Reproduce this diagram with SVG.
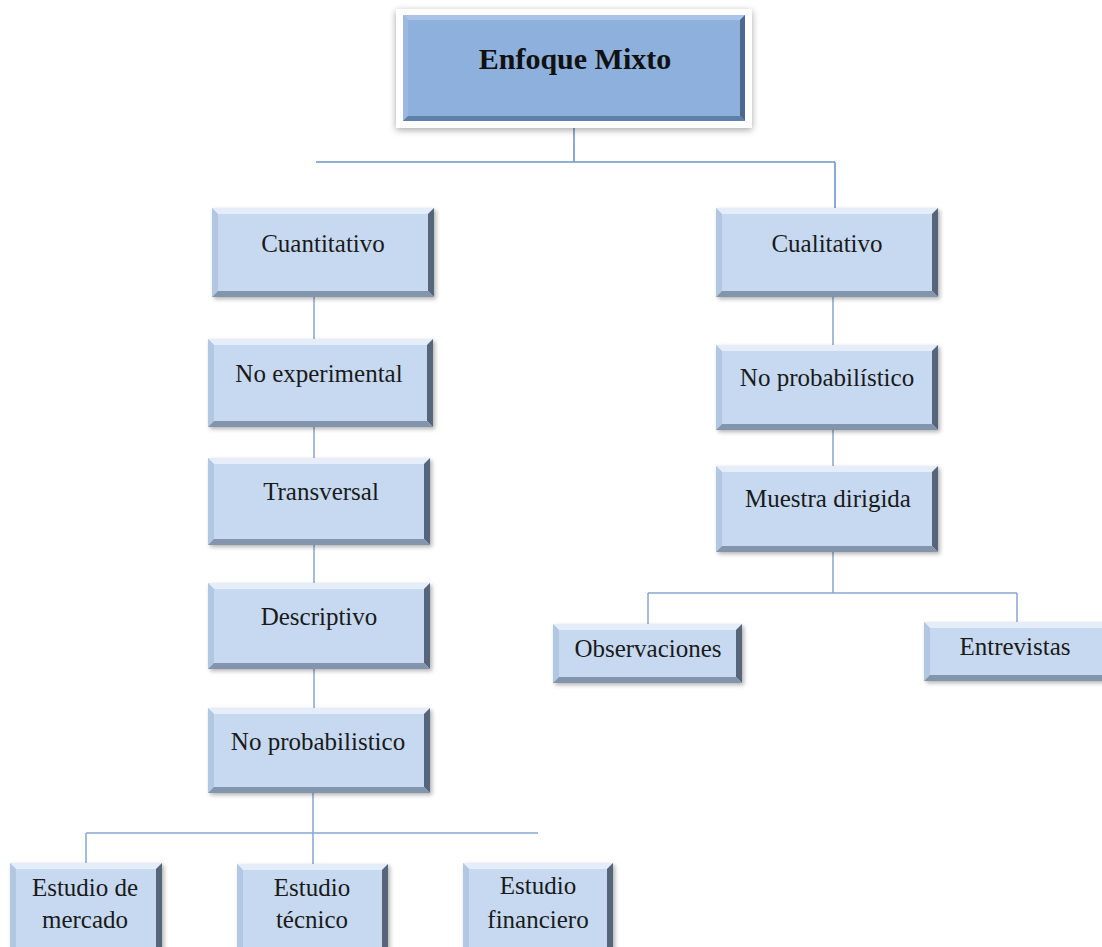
<svg xmlns="http://www.w3.org/2000/svg" width="1102" height="947" viewBox="0 0 1102 947">
  <style>
    .face { fill: #C6D9F0; }
    .bt { fill: #E4EDF8; }
    .bl { fill: #B2C7E2; }
    .br { fill: #56657A; }
    .bb { fill: #8395AC; }
    .lbl { font-family: "Liberation Serif", "Times New Roman", serif; font-size: 25px; fill: #1A1A1A; text-anchor: middle; }
    .title { font-family: "Liberation Serif", "Times New Roman", serif; font-size: 30px; font-weight: bold; fill: #111111; text-anchor: middle; }
    .wire { fill: none; stroke: #86A7D2; stroke-width: 1.5; }
    .wire-top { fill: none; stroke: #6F95C6; stroke-width: 1.6; }
    .tface { fill: #8DB0DC; }
    .tbt { fill: #A9C4E6; }
    .tbl { fill: #9AB8E0; }
    .tbr { fill: #4D6991; }
    .tbb { fill: #5F7EA8; }
  </style>
  <defs>
    <filter id="shade" x="-10%" y="-10%" width="125%" height="130%">
      <feDropShadow dx="2" dy="2" stdDeviation="2" flood-color="#000000" flood-opacity="0.3"/>
    </filter>
    <filter id="frameShade" x="-10%" y="-20%" width="120%" height="150%">
      <feDropShadow dx="0" dy="2" stdDeviation="3.5" flood-color="#000000" flood-opacity="0.35"/>
    </filter>
  </defs>

  <rect width="1102" height="947" fill="#FFFFFF"/>

  <!-- connectors -->
  <g id="connectors">
    <path class="wire-top" d="M574 128 V162 M316 162 H835 M835 162 V208"/>
    <path class="wire" d="M314 297 V339 M314 427 V458 M314 545 V583 M314 669 V708 M313 793 V864"/>
    <path class="wire" d="M86 833 H538 M86 833 V863"/>
    <path class="wire" d="M833 297 V345 M833 430 V466 M833 552 V593"/>
    <path class="wire" d="M648 593 H1017 M648 593 V624 M1017 593 V622"/>
  </g>

  <!-- root -->
  <g id="enfoque-mixto">
    <rect x="396" y="9" width="356" height="119" fill="#FFFFFF" filter="url(#frameShade)"/>
    <rect class="tface" x="403" y="15" width="342" height="106"/>
    <polygon class="tbt" points="403,15 745,15 740,20 408,20"/>
    <polygon class="tbl" points="403,15 408,20 408,116 403,121"/>
    <polygon class="tbr" points="745,15 745,121 740,116 740,20"/>
    <polygon class="tbb" points="403,121 745,121 740,116 408,116"/>
    <text class="title" x="575" y="69">Enfoque Mixto</text>
  </g>

  <!-- quantitative branch -->
  <g id="cuantitativo">
    <rect class="face" x="212" y="208" width="222" height="89" filter="url(#shade)"/>
    <polygon class="bt" points="212,208 434,208 428,214 218,214"/>
    <polygon class="bl" points="212,208 218,214 218,291 212,297"/>
    <polygon class="br" points="434,208 434,297 428,291 428,214"/>
    <polygon class="bb" points="212,297 434,297 428,291 218,291"/>
    <text class="lbl" x="323" y="252">Cuantitativo</text>
  </g>

  <g id="no-experimental">
    <rect class="face" x="208" y="339" width="225" height="88" filter="url(#shade)"/>
    <polygon class="bt" points="208,339 433,339 427,345 214,345"/>
    <polygon class="bl" points="208,339 214,345 214,421 208,427"/>
    <polygon class="br" points="433,339 433,427 427,421 427,345"/>
    <polygon class="bb" points="208,427 433,427 427,421 214,421"/>
    <text class="lbl" x="319" y="382">No experimental</text>
  </g>

  <g id="transversal">
    <rect class="face" x="208" y="458" width="222" height="87" filter="url(#shade)"/>
    <polygon class="bt" points="208,458 430,458 424,464 214,464"/>
    <polygon class="bl" points="208,458 214,464 214,539 208,545"/>
    <polygon class="br" points="430,458 430,545 424,539 424,464"/>
    <polygon class="bb" points="208,545 430,545 424,539 214,539"/>
    <text class="lbl" x="321" y="500">Transversal</text>
  </g>

  <g id="descriptivo">
    <rect class="face" x="208" y="583" width="222" height="86" filter="url(#shade)"/>
    <polygon class="bt" points="208,583 430,583 424,589 214,589"/>
    <polygon class="bl" points="208,583 214,589 214,663 208,669"/>
    <polygon class="br" points="430,583 430,669 424,663 424,589"/>
    <polygon class="bb" points="208,669 430,669 424,663 214,663"/>
    <text class="lbl" x="319" y="625">Descriptivo</text>
  </g>

  <g id="no-probabilistico-cuant">
    <rect class="face" x="208" y="708" width="222" height="85" filter="url(#shade)"/>
    <polygon class="bt" points="208,708 430,708 424,714 214,714"/>
    <polygon class="bl" points="208,708 214,714 214,787 208,793"/>
    <polygon class="br" points="430,708 430,793 424,787 424,714"/>
    <polygon class="bb" points="208,793 430,793 424,787 214,787"/>
    <text class="lbl" x="318" y="750">No probabilistico</text>
  </g>

  <g id="estudio-mercado">
    <rect class="face" x="10" y="863" width="152" height="92" filter="url(#shade)"/>
    <polygon class="bt" points="10,863 162,863 156,869 16,869"/>
    <polygon class="bl" points="10,863 16,869 16,949 10,955"/>
    <polygon class="br" points="162,863 162,955 156,949 156,869"/>
    <text class="lbl" x="85" y="896">Estudio de</text>
    <text class="lbl" x="85" y="928">mercado</text>
  </g>

  <g id="estudio-tecnico">
    <rect class="face" x="237" y="864" width="151" height="91" filter="url(#shade)"/>
    <polygon class="bt" points="237,864 388,864 382,870 243,870"/>
    <polygon class="bl" points="237,864 243,870 243,949 237,955"/>
    <polygon class="br" points="388,864 388,955 382,949 382,870"/>
    <text class="lbl" x="312" y="896">Estudio</text>
    <text class="lbl" x="312" y="928">técnico</text>
  </g>

  <g id="estudio-financiero">
    <rect class="face" x="463" y="863" width="150" height="92" filter="url(#shade)"/>
    <polygon class="bt" points="463,863 613,863 607,869 469,869"/>
    <polygon class="bl" points="463,863 469,869 469,949 463,955"/>
    <polygon class="br" points="613,863 613,955 607,949 607,869"/>
    <text class="lbl" x="538" y="894">Estudio</text>
    <text class="lbl" x="538" y="928">financiero</text>
  </g>

  <!-- qualitative branch -->
  <g id="cualitativo">
    <rect class="face" x="716" y="208" width="222" height="89" filter="url(#shade)"/>
    <polygon class="bt" points="716,208 938,208 932,214 722,214"/>
    <polygon class="bl" points="716,208 722,214 722,291 716,297"/>
    <polygon class="br" points="938,208 938,297 932,291 932,214"/>
    <polygon class="bb" points="716,297 938,297 932,291 722,291"/>
    <text class="lbl" x="827" y="252">Cualitativo</text>
  </g>

  <g id="no-probabilistico-cual">
    <rect class="face" x="716" y="345" width="222" height="85" filter="url(#shade)"/>
    <polygon class="bt" points="716,345 938,345 932,351 722,351"/>
    <polygon class="bl" points="716,345 722,351 722,424 716,430"/>
    <polygon class="br" points="938,345 938,430 932,424 932,351"/>
    <polygon class="bb" points="716,430 938,430 932,424 722,424"/>
    <text class="lbl" x="827" y="386">No probabilístico</text>
  </g>

  <g id="muestra-dirigida">
    <rect class="face" x="716" y="466" width="222" height="86" filter="url(#shade)"/>
    <polygon class="bt" points="716,466 938,466 932,472 722,472"/>
    <polygon class="bl" points="716,466 722,472 722,546 716,552"/>
    <polygon class="br" points="938,466 938,552 932,546 932,472"/>
    <polygon class="bb" points="716,552 938,552 932,546 722,546"/>
    <text class="lbl" x="828" y="507">Muestra dirigida</text>
  </g>

  <g id="observaciones">
    <rect class="face" x="553" y="624" width="189" height="59" filter="url(#shade)"/>
    <polygon class="bt" points="553,624 742,624 736,630 559,630"/>
    <polygon class="bl" points="553,624 559,630 559,677 553,683"/>
    <polygon class="br" points="742,624 742,683 736,677 736,630"/>
    <polygon class="bb" points="553,683 742,683 736,677 559,677"/>
    <text class="lbl" x="648" y="657">Observaciones</text>
  </g>

  <g id="entrevistas">
    <rect class="face" x="924" y="622" width="190" height="59" filter="url(#shade)"/>
    <polygon class="bt" points="924,622 1114,622 1108,628 930,628"/>
    <polygon class="bl" points="924,622 930,628 930,675 924,681"/>
    <polygon class="br" points="1114,622 1114,681 1108,675 1108,628"/>
    <polygon class="bb" points="924,681 1114,681 1108,675 930,675"/>
    <text class="lbl" x="1015" y="655">Entrevistas</text>
  </g>
</svg>
